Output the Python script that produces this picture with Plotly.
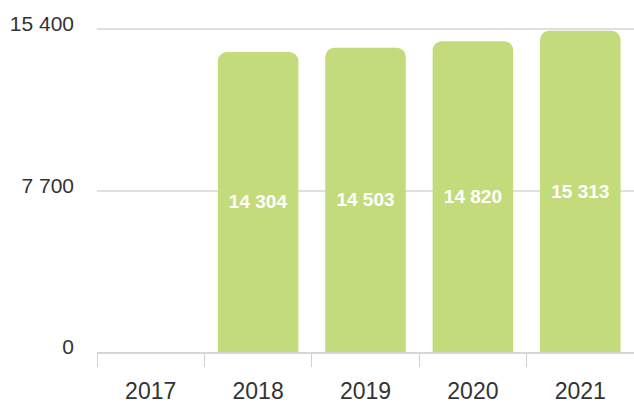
import plotly.graph_objects as go

years = ["2017", "2018", "2019", "2020", "2021"]
values = [None, 14304, 14503, 14820, 15313]
labels = ["", "14 304", "14 503", "14 820", "15 313"]
y_ticks = [0, 7700, 15400]
y_tick_text = ["0", "7 700", "15 400"]
y_max = 15734

fig = go.Figure(
    go.Bar(
        x=years,
        y=values,
        text=labels,
        textposition="inside",
        insidetextanchor="middle",
        textangle=0,
        textfont=dict(color="white", size=19, family="Liberation Sans, Arial", weight="bold"),
        marker=dict(color="#c4db7c", cornerradius=9, line=dict(width=0)),
        width=0.75,
        hoverinfo="skip",
    )
)

fig.update_layout(
    width=634,
    height=405,
    margin=dict(l=97, r=0, t=22, b=53),
    paper_bgcolor="white",
    plot_bgcolor="white",
    font=dict(family="Liberation Sans, Arial", color="#333333"),
    showlegend=False,
    bargap=0.25,
)

fig.update_yaxes(
    range=[0, y_max],
    tickvals=y_ticks,
    ticktext=y_tick_text,
    showgrid=True,
    gridcolor="#e0e0e0",
    gridwidth=2,
    zeroline=False,
    showline=False,
    ticks="",
    tickfont=dict(size=21, color="#333333"),
    ticklabelstandoff=22,
    ticklabelshift=-5,
    automargin=False,
)

fig.update_xaxes(
    showline=True,
    linecolor="#d6d6d6",
    linewidth=2,
    ticks="outside",
    tickson="boundaries",
    ticklen=13,
    tickcolor="#d0d0d0",
    tickwidth=1,
    showgrid=False,
    tickfont=dict(size=23, color="#333333"),
    ticklabelstandoff=17,
    automargin=False,
)

fig.write_html("out.html")
